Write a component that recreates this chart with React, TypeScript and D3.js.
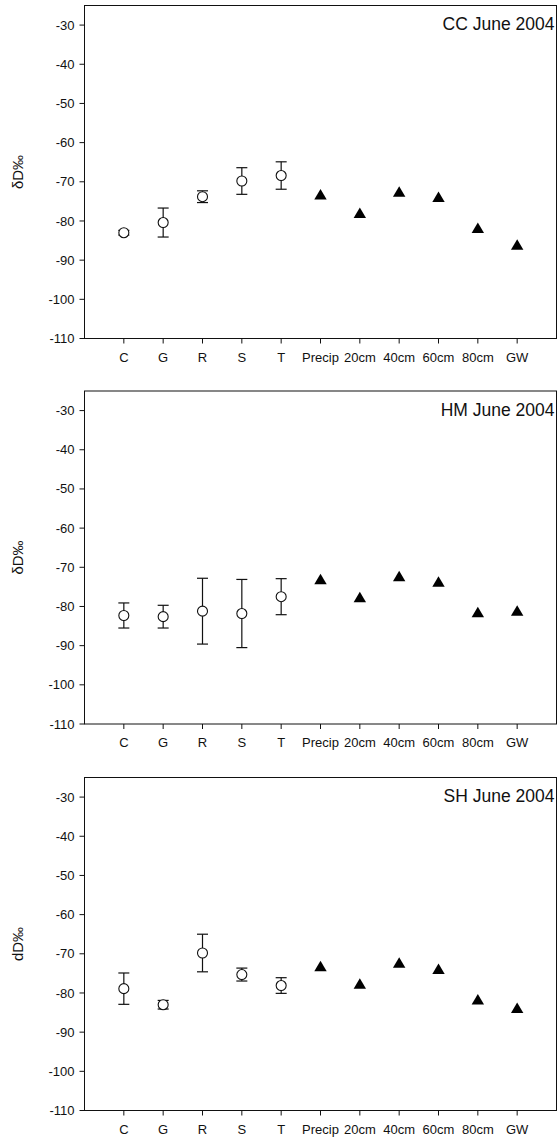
import React from "react";
import * as d3 from "d3";

const categories = ["C", "G", "R", "S", "T", "Precip", "20cm", "40cm", "60cm", "80cm", "GW"];
const plantCategories = ["C", "G", "R", "S", "T"];
const waterCategories = ["Precip", "20cm", "40cm", "60cm", "80cm", "GW"];
const yTicks = [-30, -40, -50, -60, -70, -80, -90, -100, -110];

const panelTitles = ["CC June 2004", "HM June 2004", "SH June 2004"];
const panelYLabels = ["δD‰", "δD‰", "dD‰"];

const ccPlantMean = [-83.0, -80.4, -73.8, -69.8, -68.4];
const ccPlantErr = [0.6, 3.7, 1.5, 3.4, 3.5];
const ccWater = [-73.2, -77.9, -72.5, -73.8, -81.7, -86.0];

const hmPlantMean = [-82.3, -82.6, -81.2, -81.8, -77.5];
const hmPlantErr = [3.2, 2.9, 8.4, 8.7, 4.6];
const hmWater = [-73.0, -77.6, -72.2, -73.6, -81.4, -81.0];

const shPlantMean = [-78.9, -83.0, -69.8, -75.3, -78.1];
const shPlantErr = [4.0, 1.1, 4.8, 1.65, 2.0];
const shWater = [-73.1, -77.6, -72.2, -73.8, -81.6, -83.8];

const panelsData = [
  { mean: ccPlantMean, err: ccPlantErr, water: ccWater },
  { mean: hmPlantMean, err: hmPlantErr, water: hmWater },
  { mean: shPlantMean, err: shPlantErr, water: shWater },
];

const W = 558;
const H = 1138;
const LEFT = 84.5;
const RIGHT = 556.5;
const PANEL_H = 333;
const PANEL_TOPS = [5.5, 391, 777.5];
const FONT = "'Liberation Sans', Arial, Helvetica, sans-serif";
const INK = "#111";

function Panel({ idx }: { idx: number }) {
  const top = PANEL_TOPS[idx];
  const bottom = top + PANEL_H;
  const d = panelsData[idx];
  const x = d3.scaleLinear().domain([-1, categories.length]).range([LEFT, RIGHT]);
  const y = d3.scaleLinear().domain([-110, -25]).range([bottom, top]);
  const xi = (c: string) => x(categories.indexOf(c));
  const triW = 6.2;
  const triH = 10.5;
  const cap = 5.5;
  return (
    <g>
      <rect x={LEFT} y={top} width={RIGHT - LEFT} height={PANEL_H} fill="none" stroke={INK} strokeWidth={1} />
      {yTicks.map((t) => (
        <g key={"y" + t}>
          <line x1={LEFT - 5} x2={LEFT} y1={y(t)} y2={y(t)} stroke={INK} />
          <text x={LEFT - 10} y={y(t)} dy="0.35em" textAnchor="end" fontSize={13} fontFamily={FONT} fill={INK}>
            {t}
          </text>
        </g>
      ))}
      {categories.map((c) => (
        <g key={"x" + c}>
          <line x1={xi(c)} x2={xi(c)} y1={bottom} y2={bottom + 5} stroke={INK} />
          <text x={xi(c)} y={bottom + 23} textAnchor="middle" fontSize={13} fontFamily={FONT} fill={INK}>
            {c}
          </text>
        </g>
      ))}
      <text
        transform={`translate(${23},${(top + bottom) / 2}) rotate(-90)`}
        textAnchor="middle"
        fontSize={15}
        fontFamily={FONT}
        fill={INK}
      >
        {panelYLabels[idx]}
      </text>
      <text x={RIGHT - 2} y={top + 24.5} textAnchor="end" fontSize={17.5} fontFamily={FONT} fill={INK}>
        {panelTitles[idx]}
      </text>
      {plantCategories.map((c, i) => {
        const cx = xi(c);
        const hi = y(d.mean[i] + d.err[i]);
        const lo = y(d.mean[i] - d.err[i]);
        return (
          <g key={"p" + c}>
            <line x1={cx} x2={cx} y1={hi} y2={lo} stroke={INK} strokeWidth={1.2} />
            <line x1={cx - cap} x2={cx + cap} y1={hi} y2={hi} stroke={INK} strokeWidth={1.2} />
            <line x1={cx - cap} x2={cx + cap} y1={lo} y2={lo} stroke={INK} strokeWidth={1.2} />
            <circle cx={cx} cy={y(d.mean[i])} r={5} fill="#fff" stroke={INK} strokeWidth={1.1} />
          </g>
        );
      })}
      {waterCategories.map((c, i) => {
        const cx = xi(c);
        const cy = y(d.water[i]);
        const p = d3.path();
        p.moveTo(cx, cy - triH / 2);
        p.lineTo(cx + triW, cy + triH / 2);
        p.lineTo(cx - triW, cy + triH / 2);
        p.closePath();
        return <path key={"w" + c} d={p.toString()} fill="#000" />;
      })}
    </g>
  );
}

export default function App() {
  return (
    <svg
      width={W}
      height={H}
      style={{ position: "absolute", left: 0, top: 0, background: "#fff" }}
    >
      <rect x={0} y={0} width={W} height={H} fill="#fff" />
      {[0, 1, 2].map((i) => (
        <Panel key={i} idx={i} />
      ))}
    </svg>
  );
}
